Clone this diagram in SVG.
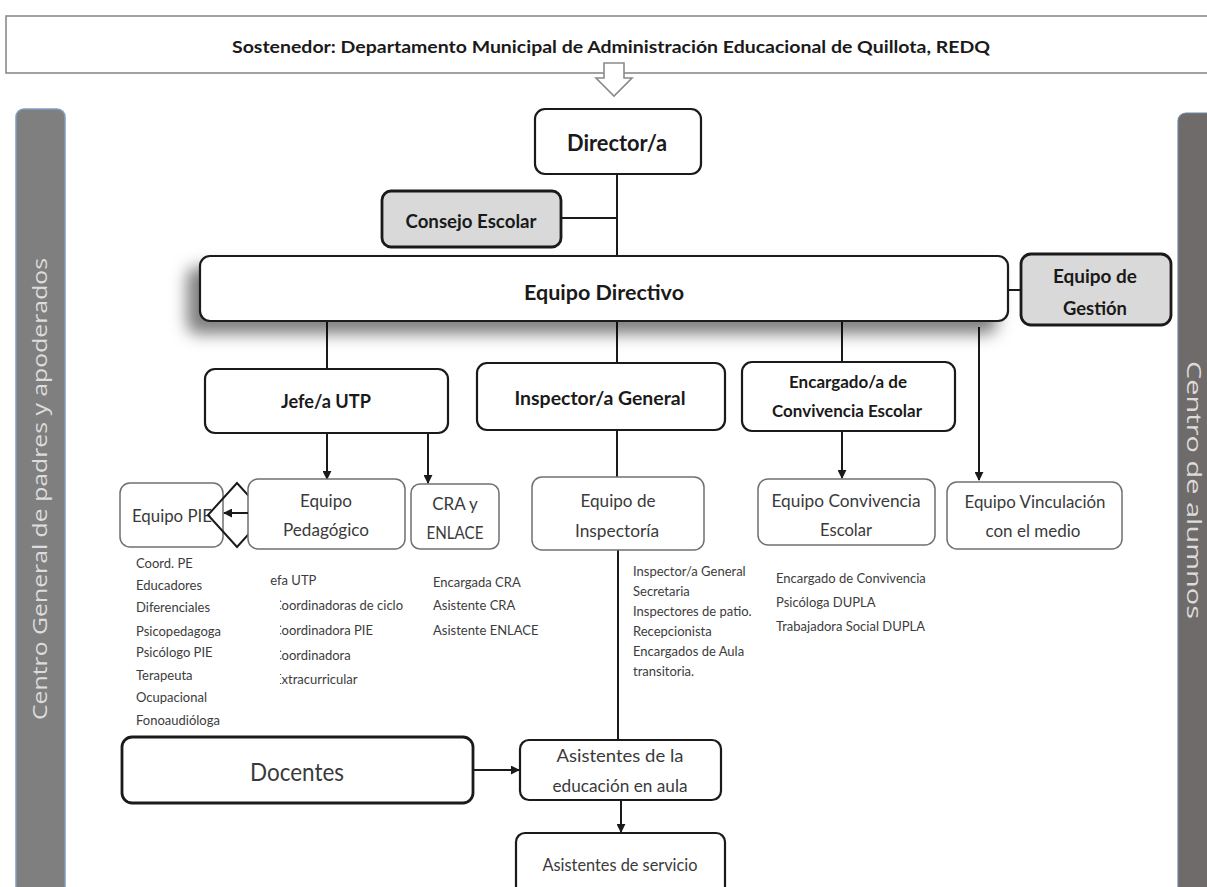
<svg xmlns="http://www.w3.org/2000/svg" width="1207" height="887" viewBox="0 0 1207 887">
  <style>
    .main { fill: #ffffff; stroke: #1a1a1a; stroke-width: 2.2; }
    .gray { fill: #d9d9d9; stroke: #1a1a1a; stroke-width: 2.8; }
    .sub { fill: #ffffff; stroke: #707070; stroke-width: 1.5; }
    .b { font-family: Lato, "Liberation Sans", sans-serif; font-weight: bold; fill: #1a1a1a; text-anchor: middle; }
    .r { font-family: Lato, "Liberation Sans", sans-serif; fill: #3a3a3a; text-anchor: middle; }
    .list { font-family: Lato, "Liberation Sans", sans-serif; fill: #3c3c3c; font-size: 13px; }
    .ln { stroke: #1a1a1a; stroke-width: 2; fill: none; }
    .bar { font-family: "Open Sans", "Liberation Sans", sans-serif; fill: #dcdcdc; font-size: 20px; text-anchor: middle; }
  </style>
  <defs>
    <marker id="arr" viewBox="0 0 10 10" refX="9" refY="5" markerWidth="4.5" markerHeight="4.5" orient="auto">
      <path d="M0,0 L10,5 L0,10 z" fill="#1a1a1a"/>
    </marker>
    <filter id="shadow" x="-10%" y="-50%" width="120%" height="220%">
      <feDropShadow dx="-12" dy="12" stdDeviation="8" flood-color="#000" flood-opacity="0.5"/>
    </filter>
    <clipPath id="clipA"><rect x="270" y="565" width="200" height="26"/></clipPath>
    <clipPath id="clipB"><rect x="280" y="591" width="200" height="100"/></clipPath>
  </defs>

  <rect width="1207" height="887" fill="#ffffff"/>

  <!-- side bars -->
  <g id="centro-padres">
    <rect x="16" y="109" width="49" height="800" rx="8" fill="#7f7f7f" stroke="#7e9dbf" stroke-width="1.5"/>
    <text class="bar" transform="translate(47,489) rotate(-90)" textLength="462" lengthAdjust="spacingAndGlyphs">Centro General de padres y apoderados</text>
  </g>
  <g id="centro-alumnos">
    <rect x="1178" y="113" width="45" height="800" rx="8" fill="#6f6b6b" stroke="#6f87a3" stroke-width="1.2"/>
    <text class="bar" font-size="18.5" transform="translate(1187,490) rotate(90)" textLength="258" lengthAdjust="spacingAndGlyphs">Centro de alumnos</text>
  </g>

  <!-- connectors -->
  <g id="connectors">
    <line class="ln" x1="617" y1="174" x2="617" y2="256"/>
    <line class="ln" x1="561" y1="218" x2="617" y2="218"/>
    <line class="ln" x1="1008" y1="290" x2="1021" y2="290"/>
    <line class="ln" x1="327" y1="322" x2="327" y2="369"/>
    <line class="ln" x1="617" y1="322" x2="617" y2="363"/>
    <line class="ln" x1="842" y1="322" x2="842" y2="362"/>
    <line class="ln" x1="979" y1="327" x2="979" y2="480" marker-end="url(#arr)"/>
    <line class="ln" x1="327" y1="433" x2="327" y2="479" marker-end="url(#arr)"/>
    <line class="ln" x1="428" y1="433" x2="428" y2="483" marker-end="url(#arr)"/>
    <line class="ln" x1="842" y1="431" x2="842" y2="478" marker-end="url(#arr)"/>
    <line class="ln" x1="617" y1="430" x2="617" y2="477"/>
    <line class="ln" x1="618" y1="550" x2="618" y2="740"/>
    <line class="ln" x1="473" y1="770" x2="519" y2="770" marker-end="url(#arr)"/>
    <line class="ln" x1="621" y1="800" x2="621" y2="832" marker-end="url(#arr)"/>
  </g>

  <!-- sostenedor -->
  <g id="sostenedor">
    <rect x="6" y="16" width="1220" height="57" fill="#ffffff" stroke="#8a8a8a" stroke-width="1.6"/>
    <text class="b" x="611" y="53" font-size="17.5" textLength="758" lengthAdjust="spacingAndGlyphs">Sostenedor: Departamento Municipal de Administración  Educacional de Quillota, REDQ</text>
    <polygon points="604,63 624,63 624,78 632,78 614,96 596,78 604,78" fill="#ffffff" stroke="#8a8a8a" stroke-width="1.6"/>
  </g>

  <g id="director">
    <rect class="main" x="535" y="109" width="166" height="65" rx="10"/>
    <text class="b" x="617" y="151" font-size="23" textLength="100" lengthAdjust="spacingAndGlyphs">Director/a</text>
  </g>

  <g id="consejo-escolar">
    <rect class="gray" x="382" y="191" width="179" height="56" rx="9"/>
    <text class="b" x="471" y="228" font-size="18.5" textLength="131" lengthAdjust="spacingAndGlyphs">Consejo  Escolar</text>
  </g>

  <g id="equipo-directivo">
    <rect class="main" x="200" y="256" width="808" height="65" rx="10" filter="url(#shadow)"/>
    <text class="b" x="604" y="300" font-size="21" textLength="160" lengthAdjust="spacingAndGlyphs">Equipo Directivo</text>
  </g>

  <g id="equipo-gestion">
    <rect class="gray" x="1021" y="254" width="150" height="71" rx="10"/>
    <text class="b" x="1095" y="283" font-size="18.5" textLength="84" lengthAdjust="spacingAndGlyphs">Equipo  de</text>
    <text class="b" x="1095" y="315" font-size="18.5" textLength="64" lengthAdjust="spacingAndGlyphs">Gestión</text>
  </g>

  <g id="jefe-utp">
    <rect class="main" x="205" y="369" width="243" height="64" rx="10"/>
    <text class="b" x="326" y="408" font-size="18.5" textLength="90" lengthAdjust="spacingAndGlyphs">Jefe/a UTP</text>
  </g>

  <g id="inspector-general">
    <rect class="main" x="477" y="363" width="248" height="67" rx="10"/>
    <text class="b" x="600" y="405" font-size="18.5" textLength="171" lengthAdjust="spacingAndGlyphs">Inspector/a  General</text>
  </g>

  <g id="encargado-convivencia">
    <rect class="main" x="742" y="362" width="213" height="69" rx="10"/>
    <text class="b" x="848" y="388" font-size="17" textLength="118" lengthAdjust="spacingAndGlyphs">Encargado/a de</text>
    <text class="b" x="847" y="417" font-size="17" textLength="150" lengthAdjust="spacingAndGlyphs">Convivencia Escolar</text>
  </g>

  <g id="equipo-pie">
    <rect class="sub" x="120" y="483" width="103" height="64" rx="10"/>
    <text class="r" x="172" y="522" font-size="17" textLength="80" lengthAdjust="spacingAndGlyphs">Equipo PIE</text>
    <polygon points="237,483 208,515 237,547 266,515" fill="none" stroke="#1a1a1a" stroke-width="2"/>
    <text class="list">
      <tspan x="136" y="568">Coord. PE</tspan>
      <tspan x="136" y="590">Educadores</tspan>
      <tspan x="136" y="612">Diferenciales</tspan>
      <tspan x="136" y="636">Psicopedagoga</tspan>
      <tspan x="136" y="657">Psicólogo PIE</tspan>
      <tspan x="136" y="680">Terapeuta</tspan>
      <tspan x="136" y="702">Ocupacional</tspan>
      <tspan x="136" y="725">Fonoaudióloga</tspan>
    </text>
  </g>

  <g id="equipo-pedagogico">
    <rect class="sub" x="248" y="479" width="157" height="70" rx="10"/>
    <text class="r" x="326" y="507" font-size="17" textLength="52" lengthAdjust="spacingAndGlyphs">Equipo</text>
    <text class="r" x="326" y="536" font-size="17" textLength="86" lengthAdjust="spacingAndGlyphs">Pedagógico</text>
    <line class="ln" x1="248" y1="513" x2="224" y2="513" marker-end="url(#arr)"/>
    <text class="list" x="265" y="585" clip-path="url(#clipA)">Jefa UTP</text>
    <g class="list" clip-path="url(#clipB)">
      <text x="273" y="610">Coordinadoras de ciclo</text>
      <text x="273" y="635">Coordinadora PIE</text>
      <text x="273" y="660">Coordinadora</text>
      <text x="274" y="684">Extracurricular</text>
    </g>
  </g>

  <g id="cra-enlace">
    <rect class="sub" x="411" y="484" width="88" height="65" rx="9"/>
    <text class="r" x="455" y="510" font-size="17">CRA y</text>
    <text class="r" x="455" y="539" font-size="17" textLength="57" lengthAdjust="spacingAndGlyphs">ENLACE</text>
    <text class="list">
      <tspan x="433" y="587">Encargada CRA</tspan>
      <tspan x="433" y="610">Asistente CRA</tspan>
      <tspan x="433" y="635">Asistente ENLACE</tspan>
    </text>
  </g>

  <g id="equipo-inspectoria">
    <rect class="sub" x="532" y="477" width="172" height="73" rx="10"/>
    <text class="r" x="618" y="507" font-size="17" textLength="75" lengthAdjust="spacingAndGlyphs">Equipo de</text>
    <text class="r" x="617" y="537" font-size="17" textLength="84" lengthAdjust="spacingAndGlyphs">Inspectoría</text>
    <text class="list" font-size="10.5">
      <tspan x="633" y="576">Inspector/a General</tspan>
      <tspan x="633" y="596">Secretaria</tspan>
      <tspan x="633" y="616">Inspectores de patio.</tspan>
      <tspan x="633" y="636">Recepcionista</tspan>
      <tspan x="633" y="656">Encargados de Aula</tspan>
      <tspan x="633" y="676">transitoria.</tspan>
    </text>
  </g>

  <g id="equipo-convivencia">
    <rect class="sub" x="758" y="479" width="177" height="66" rx="10"/>
    <text class="r" x="846" y="507" font-size="17" textLength="149" lengthAdjust="spacingAndGlyphs">Equipo  Convivencia</text>
    <text class="r" x="846" y="536" font-size="17" textLength="52" lengthAdjust="spacingAndGlyphs">Escolar</text>
    <text class="list">
      <tspan x="776" y="583">Encargado de Convivencia</tspan>
      <tspan x="776" y="607">Psicóloga DUPLA</tspan>
      <tspan x="776" y="631">Trabajadora Social DUPLA</tspan>
    </text>
  </g>

  <g id="equipo-vinculacion">
    <rect class="sub" x="947" y="482" width="175" height="67" rx="10"/>
    <text class="r" x="1035" y="508" font-size="17" textLength="141" lengthAdjust="spacingAndGlyphs">Equipo Vinculación</text>
    <text class="r" x="1033" y="537" font-size="17" textLength="95" lengthAdjust="spacingAndGlyphs">con el medio</text>
  </g>

  <g id="docentes">
    <rect x="122" y="737" width="351" height="66" rx="10" fill="#ffffff" stroke="#1a1a1a" stroke-width="2.8"/>
    <text class="r" x="297" y="781" font-size="25" fill="#2a2a2a" textLength="94" lengthAdjust="spacingAndGlyphs">Docentes</text>
  </g>

  <g id="asistentes-aula">
    <rect class="main" x="520" y="740" width="201" height="60" rx="9"/>
    <text class="r" x="620" y="762" font-size="17" textLength="127" lengthAdjust="spacingAndGlyphs">Asistentes de la</text>
    <text class="r" x="620" y="792" font-size="17" textLength="135" lengthAdjust="spacingAndGlyphs">educación en aula</text>
  </g>

  <g id="asistentes-servicio">
    <rect class="main" x="516" y="833" width="209" height="70" rx="9"/>
    <text class="r" x="620" y="871" font-size="17" textLength="155" lengthAdjust="spacingAndGlyphs">Asistentes de servicio</text>
  </g>
</svg>
